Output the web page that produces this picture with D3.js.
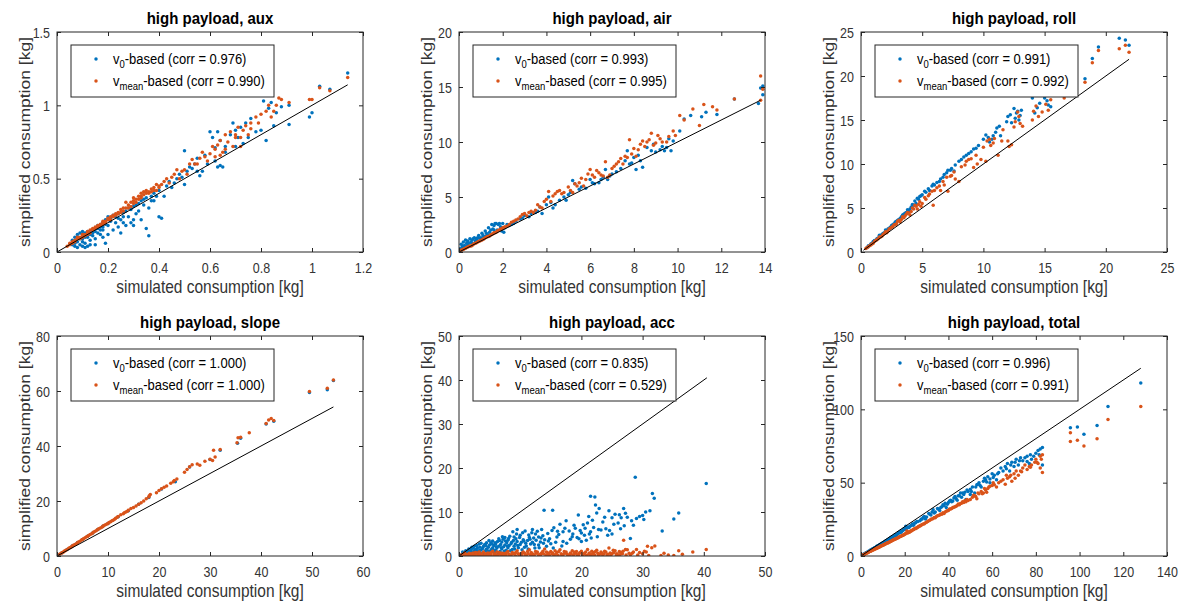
<!DOCTYPE html>
<html><head><meta charset="utf-8">
<script src="https://cdn.jsdelivr.net/npm/d3@7"></script>
<style>body{margin:0;background:#fff} text{font-family:Arial,"Liberation Sans",Helvetica,sans-serif}</style>
</head><body><svg id="c" width="1183" height="601"></svg>
<script>
const panelTitles = ["high payload, aux","high payload, air","high payload, roll","high payload, slope","high payload, acc","high payload, total"];
const corrV0 = ["0.976","0.993","0.991","1.000","0.835","0.996"];
const corrVmean = ["0.990","0.995","0.992","1.000","0.529","0.991"];
const xTicks = [[0,0.2,0.4,0.6,0.8,1,1.2],[0,2,4,6,8,10,12,14],[0,5,10,15,20,25],[0,10,20,30,40,50,60],[0,10,20,30,40,50],[0,20,40,60,80,100,120,140]];
const yTicks = [[0,0.5,1,1.5],[0,5,10,15,20],[0,5,10,15,20,25],[0,20,40,60,80],[0,10,20,30,40,50],[0,50,100,150]];
const lineEnds = [[0,1.14],[0,13.8],[0.2,21.9],[0,54.2],[0,40.5],[0,128]];

const auxV0 = [[0.06,0.05],[0.07,0.06],[0.07,0.1],[0.08,0.12],[0.08,0.07],[0.09,0.13],[0.09,0.05],[0.1,0.12],[0.1,0.09],[0.1,0.04],[0.11,0.13],[0.11,0.06],[0.12,0.1],[0.12,0.14],[0.12,0.04],[0.13,0.12],[0.13,0.08],[0.14,0.15],[0.14,0.11],[0.15,0.16],[0.15,0.05],[0.16,0.13],[0.16,0.18],[0.17,0.17],[0.17,0.12],[0.18,0.2],[0.18,0.15],[0.19,0.22],[0.19,0.06],[0.2,0.18],[0.2,0.24],[0.21,0.21],[0.22,0.25],[0.22,0.15],[0.23,0.2],[0.24,0.26],[0.25,0.22],[0.25,0.13],[0.26,0.27],[0.27,0.18],[0.28,0.3],[0.28,0.24],[0.29,0.2],[0.3,0.31],[0.3,0.18],[0.31,0.26],[0.32,0.33],[0.33,0.22],[0.34,0.36],[0.35,0.16],[0.36,0.3],[0.36,0.11],[0.37,0.38],[0.38,0.35],[0.4,0.42],[0.4,0.24],[0.41,0.23],[0.42,0.38],[0.44,0.48],[0.45,0.44],[0.47,0.5],[0.48,0.53],[0.5,0.46],[0.5,0.69],[0.52,0.58],[0.54,0.6],[0.55,0.64],[0.56,0.52],[0.57,0.55],[0.58,0.66],[0.6,0.82],[0.61,0.78],[0.62,0.62],[0.63,0.58],[0.64,0.59],[0.65,0.58],[0.63,0.82],[0.64,0.76],[0.66,0.72],[0.68,0.8],[0.69,0.88],[0.7,0.83],[0.71,0.78],[0.73,0.74],[0.74,0.88],[0.76,0.91],[0.78,0.82],[0.8,0.83],[0.81,1.03],[0.82,0.76],[0.83,0.98],[0.84,1.02],[0.85,0.86],[0.86,0.95],[0.88,0.99],[0.91,0.87],[0.91,1.0],[0.99,0.92],[1.0,0.95],[1.03,1.13],[1.07,1.11],[1.14,1.22],
[0.06,0.08],[0.07,0.04],[0.08,0.1],[0.09,0.09],[0.1,0.14],[0.11,0.1],[0.12,0.12],[0.13,0.14],[0.14,0.13],[0.15,0.14],[0.16,0.16],[0.17,0.15],[0.18,0.17],[0.19,0.19],[0.21,0.23],[0.23,0.24],[0.24,0.23],[0.26,0.24],[0.27,0.28],[0.29,0.29],[0.31,0.32],[0.33,0.35],[0.34,0.32],[0.35,0.37],[0.37,0.35],[0.38,0.4],[0.39,0.38],[0.43,0.45],[0.46,0.47],[0.49,0.51],[0.51,0.55],[0.53,0.57],[0.55,0.55],[0.59,0.6],[0.62,0.71],[0.66,0.68],[0.7,0.72],[0.72,0.85],[0.75,0.78],[0.15,0.09],[0.2,0.12],[0.18,0.1],[0.24,0.17],[0.3,0.22],[0.26,0.2],[0.32,0.28],[0.1,0.07],[0.13,0.05],[0.08,0.03],[0.11,0.03]];
const auxVmean = [[0.04,0.04],[0.05,0.06],[0.06,0.07],[0.07,0.08],[0.08,0.09],[0.08,0.1],[0.09,0.1],[0.1,0.11],[0.1,0.12],[0.11,0.12],[0.12,0.14],[0.12,0.13],[0.13,0.15],[0.14,0.15],[0.15,0.17],[0.15,0.16],[0.16,0.18],[0.17,0.19],[0.18,0.2],[0.18,0.21],[0.19,0.21],[0.2,0.23],[0.2,0.22],[0.21,0.24],[0.22,0.25],[0.23,0.26],[0.24,0.27],[0.25,0.29],[0.26,0.3],[0.27,0.3],[0.27,0.34],[0.28,0.32],[0.29,0.34],[0.3,0.35],[0.3,0.37],[0.31,0.36],[0.32,0.38],[0.33,0.4],[0.33,0.38],[0.34,0.41],[0.35,0.42],[0.36,0.41],[0.37,0.43],[0.38,0.44],[0.39,0.46],[0.4,0.45],[0.42,0.48],[0.43,0.5],[0.44,0.47],[0.46,0.53],[0.47,0.56],[0.48,0.5],[0.5,0.56],[0.51,0.53],[0.52,0.6],[0.53,0.63],[0.55,0.6],[0.56,0.64],[0.57,0.68],[0.58,0.65],[0.6,0.67],[0.61,0.72],[0.62,0.65],[0.63,0.73],[0.64,0.76],[0.65,0.68],[0.66,0.8],[0.67,0.75],[0.68,0.82],[0.69,0.72],[0.7,0.78],[0.71,0.85],[0.72,0.72],[0.73,0.83],[0.74,0.86],[0.75,0.8],[0.76,0.88],[0.78,0.92],[0.8,0.94],[0.82,0.96],[0.83,1.0],[0.84,0.92],[0.86,1.0],[0.87,1.05],[0.88,1.04],[0.91,1.02],[0.99,1.04],[1.0,1.04],[1.03,1.12],[1.07,1.1],[1.14,1.19],
[0.05,0.05],[0.06,0.06],[0.07,0.07],[0.09,0.09],[0.1,0.1],[0.11,0.11],[0.12,0.12],[0.13,0.13],[0.14,0.16],[0.16,0.17],[0.17,0.18],[0.18,0.19],[0.19,0.2],[0.21,0.22],[0.22,0.24],[0.23,0.25],[0.24,0.26],[0.25,0.27],[0.26,0.28],[0.28,0.3],[0.29,0.31],[0.3,0.33],[0.31,0.34],[0.32,0.36],[0.33,0.37],[0.34,0.39],[0.35,0.4],[0.36,0.4],[0.37,0.41],[0.38,0.42],[0.39,0.42],[0.4,0.44],[0.41,0.46],[0.45,0.51],[0.49,0.55],[0.54,0.6],[0.59,0.62],[0.62,0.7],[0.64,0.66],[0.66,0.7],[0.7,0.8],[0.72,0.78],[0.76,0.84],[0.79,0.88],[0.85,0.96]];

const airV0 = [[0.05,0.3],[0.1,0.7],[0.15,0.5],[0.2,0.9],[0.25,0.6],[0.3,1.1],[0.35,0.8],[0.4,1.0],[0.5,1.2],[0.55,0.9],[0.6,1.1],[0.7,1.3],[0.75,1.0],[0.8,1.2],[0.9,1.5],[1.0,1.3],[1.05,1.7],[1.1,1.2],[1.2,1.9],[1.3,1.6],[1.35,2.2],[1.4,1.8],[1.5,2.5],[1.55,2.1],[1.6,2.4],[1.7,2.6],[1.75,2.0],[1.8,2.5],[1.9,2.3],[2.0,2.6],[2.05,1.8],[2.1,2.2],[2.3,2.4],[2.5,2.6],[2.8,3.0],[3.0,3.3],[3.2,3.2],[3.5,3.6],[3.7,4.1],[3.8,3.5],[4.0,4.3],[4.1,5.0],[4.3,4.0],[4.6,4.7],[4.9,4.7],[5.0,5.2],[5.2,6.5],[5.3,6.2],[5.5,5.7],[5.8,5.8],[6.0,6.6],[6.2,6.2],[6.5,6.6],[6.7,7.5],[6.9,6.9],[7.2,7.3],[7.6,8.3],[7.7,9.2],[7.9,8.1],[8.1,7.5],[8.2,8.8],[8.4,7.7],[8.6,9.5],[8.9,9.8],[9.2,9.3],[9.5,9.5],[9.7,9.2],[9.6,10.3],[10.1,11.0],[10.3,12.1],[10.6,12.4],[11.1,12.3],[11.3,12.7],[11.8,12.5],[12.6,13.9],[13.7,13.5],[13.8,14.9],[13.9,14.3],[13.9,15.1],
[0.1,0.3],[0.2,0.4],[0.3,0.5],[0.4,0.6],[0.45,0.8],[0.6,0.8],[0.65,1.2],[0.8,1.0],[0.85,1.3],[0.95,1.2],[1.1,1.5],[1.2,1.4],[1.25,1.7],[1.45,2.0],[1.6,2.0],[1.65,2.6],[1.85,2.6],[1.95,1.9],[2.2,2.5],[2.4,2.5],[2.6,2.8],[2.9,3.1],[3.3,3.5],[3.6,3.7],[4.2,4.5],[4.4,4.3],[4.8,5.0],[5.1,5.4],[5.6,5.9],[6.1,6.3],[6.4,6.3],[6.6,6.8],[6.8,6.6],[7.0,7.1],[7.4,7.6],[7.8,8.0],[8.0,8.6],[8.3,8.3],[8.8,9.2],[9.0,9.1],[9.3,9.6],[9.4,9.2],[9.8,10.1]];
const airVmean = [[0.05,0.1],[0.1,0.15],[0.2,0.25],[0.3,0.35],[0.4,0.45],[0.5,0.55],[0.6,0.6],[0.7,0.75],[0.8,0.85],[0.9,0.95],[1.0,1.05],[1.1,1.15],[1.2,1.3],[1.3,1.4],[1.4,1.45],[1.5,1.6],[1.6,1.75],[1.7,1.8],[1.8,1.95],[1.9,2.1],[2.0,2.2],[2.1,2.3],[2.2,2.35],[2.4,2.7],[2.6,2.9],[2.8,3.2],[2.9,3.4],[3.0,3.5],[3.1,3.3],[3.3,3.7],[3.5,3.8],[3.6,4.3],[3.8,4.0],[3.9,4.6],[4.0,4.8],[4.1,5.5],[4.2,4.6],[4.4,5.3],[4.6,5.6],[4.8,5.4],[5.0,5.9],[5.2,5.4],[5.4,6.0],[5.6,6.7],[5.8,6.6],[6.0,7.5],[6.1,7.0],[6.3,7.4],[6.5,7.0],[6.7,8.2],[6.8,6.8],[7.0,7.6],[7.2,8.0],[7.4,8.5],[7.6,8.7],[7.8,10.2],[8.0,9.4],[8.2,9.3],[8.4,10.1],[8.6,10.0],[8.8,10.8],[9.0,9.9],[9.2,10.3],[9.5,10.0],[9.8,11.0],[10.1,12.4],[10.3,12.0],[10.7,13.0],[11.0,11.5],[11.2,13.4],[11.6,13.2],[11.8,12.9],[12.6,13.9],[13.8,13.8],[13.8,16.0],[13.9,14.8],
[0.15,0.2],[0.25,0.3],[0.35,0.4],[0.45,0.5],[0.55,0.55],[0.65,0.7],[0.75,0.8],[0.85,0.9],[0.95,1.0],[1.05,1.1],[1.15,1.2],[1.25,1.35],[1.35,1.4],[1.45,1.55],[1.55,1.65],[1.65,1.75],[1.75,1.9],[1.85,2.0],[1.95,2.1],[2.05,2.2],[2.3,2.5],[2.5,2.8],[2.7,3.0],[3.2,3.6],[3.4,3.6],[3.7,4.1],[4.3,5.1],[4.5,5.5],[4.7,5.3],[5.1,5.6],[5.3,6.2],[5.5,6.3],[5.7,6.0],[5.9,7.1],[6.2,6.8],[6.4,7.2],[6.6,6.9],[6.9,7.0],[7.1,7.8],[7.3,8.2],[7.5,8.0],[7.7,8.6],[7.9,8.9],[8.1,8.7],[8.3,9.8],[8.5,9.6],[8.7,10.2],[8.9,9.7],[9.1,10.6],[9.3,10.0],[9.6,10.5],[9.9,10.6]];

const rollV0 = [[0.5,0.5],[0.8,0.9],[1.0,1.2],[1.2,1.3],[1.4,1.6],[1.5,1.9],[1.7,2.0],[1.9,2.2],[2.0,2.5],[2.2,2.6],[2.4,2.8],[2.6,3.1],[2.8,3.4],[3.0,3.6],[3.2,3.8],[3.4,4.2],[3.6,4.4],[3.8,4.8],[4.0,4.9],[4.2,5.4],[4.4,5.8],[4.6,6.1],[4.8,6.3],[5.0,6.5],[5.3,6.8],[5.6,7.0],[5.9,7.7],[6.2,7.9],[6.5,8.3],[6.8,8.8],[7.1,9.3],[7.4,9.5],[7.7,9.9],[8.2,10.5],[8.6,11.0],[9.0,11.4],[9.4,11.8],[10.0,12.8],[10.2,13.3],[10.5,12.5],[10.8,13.2],[11.1,14.1],[11.4,13.2],[12.0,15.4],[12.3,14.7],[12.5,16.3],[12.7,15.8],[12.9,15.0],[13.1,16.1],[14.0,17.5],[14.2,15.8],[14.6,16.9],[15.0,17.5],[15.3,16.7],[16.0,18.6],[16.8,18.0],[18.3,19.7],[18.9,22.0],[19.4,23.3],[21.1,24.3],[21.6,24.1],[21.9,23.5],
[0.6,0.7],[0.9,1.0],[1.1,1.3],[1.3,1.5],[1.6,1.8],[1.8,2.1],[2.1,2.4],[2.3,2.7],[2.5,3.0],[2.7,3.2],[2.9,3.5],[3.1,3.7],[3.3,4.0],[3.5,4.3],[3.7,4.5],[3.9,4.7],[4.1,5.1],[4.3,5.3],[4.5,5.5],[4.7,6.0],[4.9,6.4],[5.2,6.9],[5.5,7.2],[5.8,7.5],[6.0,7.6],[6.4,8.0],[6.7,8.5],[7.0,9.0],[7.3,9.3],[7.6,9.2],[8.0,10.3],[8.4,10.8],[8.8,11.2],[9.2,11.7],[9.6,12.1],[10.4,13.0],[10.7,12.8],[11.0,13.6],[11.3,14.3],[11.9,14.8],[12.2,15.6],[12.6,15.2],[12.8,16.0],[13.0,15.5],[14.4,16.4],[15.2,17.2],[15.5,16.5]];
const rollVmean = [[0.4,0.4],[0.6,0.6],[0.8,0.8],[1.0,1.0],[1.2,1.3],[1.4,1.5],[1.5,1.7],[1.7,1.8],[1.9,2.1],[2.0,2.3],[2.2,2.4],[2.4,2.7],[2.6,2.9],[2.8,3.1],[3.0,3.5],[3.2,3.4],[3.4,4.0],[3.6,4.1],[3.8,4.5],[4.0,4.2],[4.2,5.0],[4.4,5.3],[4.6,4.9],[4.8,5.7],[5.0,5.5],[5.3,6.0],[5.6,6.6],[5.9,5.3],[6.2,7.3],[6.5,7.0],[6.8,7.6],[7.1,6.9],[7.4,8.7],[7.7,8.3],[8.0,8.0],[8.5,9.9],[8.8,10.5],[9.2,9.6],[9.5,10.0],[10.0,11.9],[10.3,12.6],[10.6,12.1],[10.9,12.9],[11.2,11.0],[11.5,12.6],[12.0,12.6],[12.3,12.2],[12.6,14.8],[12.9,15.4],[13.2,14.3],[14.0,15.0],[14.3,16.6],[14.8,15.9],[15.3,16.1],[15.5,17.3],[16.6,17.5],[18.3,19.3],[18.9,21.5],[19.4,22.9],[21.1,23.1],[21.6,23.5],[21.9,22.7],
[0.5,0.5],[0.7,0.7],[0.9,0.9],[1.1,1.2],[1.3,1.4],[1.6,1.7],[1.8,2.0],[2.1,2.2],[2.3,2.6],[2.5,2.8],[2.7,3.1],[2.9,3.2],[3.1,3.6],[3.3,3.7],[3.5,3.9],[3.7,4.3],[3.9,4.4],[4.1,4.6],[4.3,4.9],[4.5,5.2],[4.7,5.4],[4.9,5.2],[5.2,6.2],[5.5,6.4],[5.8,6.9],[6.0,7.0],[6.4,7.5],[6.7,8.0],[7.0,8.5],[7.3,8.6],[7.6,9.1],[8.2,9.7],[8.6,10.3],[9.0,10.6],[9.4,11.0],[9.8,10.5],[10.2,10.3],[10.5,12.8],[10.8,12.4],[11.6,13.9],[12.1,12.0],[12.5,14.2],[12.8,15.9],[13.0,14.6],[14.1,16.0],[14.5,15.4],[15.1,16.8]];

const slopeV0 = [[0.3,0.4],[1,1.2],[2,2.4],[3,3.6],[4,4.8],[5,6],[6,7.2],[7,8.4],[8,9.6],[9,10.8],[10,11.8],[12,14.3],[14,16.5],[16,18.8],[18,21.3],[20.5,24.4],[23.2,27],[26,32.4],[30,35.1],[32,38.5],[35.4,41],[36,42.8],[41,48],[42.5,49],[49.5,59.5],[53,60.5],[54.2,63.8]];
const slopeVmean = [[0.3,0.4],[0.6,0.7],[1,1.2],[1.4,1.7],[1.8,2.2],[2.2,2.6],[2.6,3.1],[3,3.6],[3.5,4.2],[4,4.8],[4.5,5.4],[5,6],[5.5,6.6],[6,7.2],[6.5,7.8],[7,8.4],[7.5,9],[8,9.6],[8.5,10.2],[9,10.8],[9.5,11.4],[10,11.8],[10.5,12.5],[11,13],[11.5,13.7],[12,14.4],[12.5,15],[13,15.4],[13.5,16],[14,16.6],[14.5,17.3],[15,17.6],[16,18.8],[17,20],[17.5,20.8],[18,21.5],[18.3,22.4],[19.5,23],[20.5,24.5],[21.5,25.5],[22.3,26.5],[23,27.5],[23.5,28],[25,30.5],[25.5,31.5],[26,32.5],[26.5,33.2],[27.5,33.5],[28,33],[29,34.5],[30,35.2],[30.5,34.7],[30.7,38.5],[31,36],[32,38.7],[35.3,41.2],[35.5,43],[36,43.2],[37.7,44.8],[41,48.2],[41.5,49.5],[42,50],[42.5,49.3],[49.5,59.8],[53,61],[54.2,64],
[0.8,1.0],[1.2,1.4],[1.6,1.9],[2.4,2.9],[2.8,3.3],[3.2,3.9],[3.8,4.5],[4.2,5.1],[4.8,5.8],[5.2,6.3],[5.8,7.0],[6.2,7.5],[6.8,8.1],[7.2,8.7],[7.8,9.4],[8.2,9.9],[8.8,10.5],[9.2,11.1],[9.8,11.6],[10.2,12.2],[10.8,12.8],[11.3,13.4],[11.8,14.1],[13.2,15.7],[13.8,16.3],[15.5,18.2],[16.5,19.4],[18.1,21.9],[20,23.8],[21,25],[22.8,27]];

const accV0 = [[0.5,0.3],[1,0.6],[1.2,0.2],[1.5,1],[2,0.5],[2,1.5],[2.5,1],[2.5,2.2],[3,0.8],[3,1.8],[3.3,2.7],[3.5,1.3],[4,2.2],[4,0.7],[4.5,3],[4.5,1.6],[5,2.5],[5,1.1],[5.5,3.4],[5.5,1.9],[6,2.8],[6,1.3],[6.5,3.9],[6.5,2.2],[7,3.2],[7,1.6],[7.5,4.2],[7.5,2.5],[8,3.6],[8,1.9],[8.5,2.8],[8.8,5.5],[9,4.3],[9,2.2],[9.5,3.3],[9.5,6],[10,4.7],[10,2.6],[10.5,3.7],[10.8,5.7],[11,2.3],[11.5,4.2],[12,3.1],[12,6],[12.5,5],[13,2.5],[13,4.3],[13.5,6],[13.9,10.4],[14,3.7],[14.5,5.1],[15,2.8],[15.3,10.4],[15.5,6.4],[16,4.3],[16.5,7.2],[17,3.3],[17,5.5],[17.5,8],[18,5.7],[18.5,4.4],[19,6.3],[19.5,9.3],[20,5.2],[20,3.3],[20.5,4.7],[21,7.5],[21.5,13.6],[21.2,9],[21.5,5.5],[22,6.5],[22.2,13.4],[22.3,11.6],[22.6,4.4],[22.9,10.8],[23.5,7.7],[24,6.2],[24.5,10.3],[25,8.7],[25,5],[25.5,9.5],[26,7.5],[26.5,8.7],[26.9,10.8],[27,6.9],[27.5,8.8],[28,4],[28.5,7],[28.8,17.9],[29,8.5],[30,9.2],[30.5,10],[31.6,14.2],[31.9,13.1],[33.2,5.7],[35.1,8.4],[35.9,9.8],[40.4,16.5],
[0.7,0.5],[0.9,0.2],[1.3,0.8],[1.7,0.4],[1.8,1.3],[2.2,0.9],[2.3,1.8],[2.7,0.4],[2.8,1.5],[3.2,1.1],[3.4,2.0],[3.7,0.6],[3.8,1.6],[4.2,2.6],[4.3,1.2],[4.7,0.9],[4.8,2.0],[5.2,3.0],[5.3,1.5],[5.7,2.4],[5.8,0.8],[6.2,1.8],[6.3,3.3],[6.7,1.0],[6.8,2.6],[7.2,3.8],[7.3,2.1],[7.7,1.3],[7.8,3.0],[8.2,2.4],[8.3,4.5],[8.7,1.5],[8.9,3.5],[9.2,2.7],[9.4,5.0],[9.7,1.9],[10.2,3.1],[10.4,5.3],[10.7,2.0],[11.2,3.5],[11.4,4.8],[11.7,2.7],[12.2,4.1],[12.4,1.8],[12.8,5.6],[13.3,3.2],[13.7,4.6],[14.3,2.2],[14.8,3.9],[15.2,5.8],[15.8,3.1],[16.3,4.9],[16.8,2.3],[17.3,6.3],[18.2,3.8],[18.8,7.0],[19.3,4.2],[19.8,5.8],[20.3,7.1],[20.8,3.6],[21.3,5.0],[21.8,8.1],[22.5,9.8],[23.2,5.9],[23.8,8.8],[24.3,4.7],[25.3,7.2],[26.2,9.4],[27.2,9.7],[28.2,8.0],[29.5,9.0],[30.2,8.3],[31.2,10.3],
[0.6,0.9],[1.1,1.2],[1.4,0.5],[1.6,1.6],[1.9,0.8],[2.1,2.0],[2.4,0.3],[2.6,1.4],[2.9,2.4],[3.1,0.5],[3.3,1.2],[3.6,2.9],[3.9,1.9],[4.1,0.4],[4.4,2.4],[4.6,1.3],[4.9,3.5],[5.1,0.6],[5.4,2.7],[5.6,1.4],[5.9,3.0],[6.1,2.1],[6.4,0.7],[6.6,3.5],[6.9,1.9],[7.1,4.4],[7.4,1.1],[7.6,3.4],[7.9,2.3],[8.1,4.0],[8.4,1.2],[8.6,3.1],[9.1,1.6],[9.3,3.9],[9.6,2.4],[9.9,4.2],[10.3,1.4],[10.6,3.4],[10.9,2.9],[11.3,1.6],[11.6,3.8],[11.9,5.3],[12.3,2.6],[12.6,3.6],[13.1,1.9],[13.4,4.1],[13.8,2.9],[14.6,3.4],[15.4,1.8],[16.1,5.6],[17.6,2.9],[18.6,5.0],[19.6,3.9],[20.6,6.3],[21.6,4.1],[22.8,6.0],[24.6,5.8],[26.4,6.2]];
const accVmean = [[0.5,0.1],[1,0.3],[1.5,0.2],[2,0.5],[2.5,0.1],[3,0.7],[3.5,0.3],[4,0.9],[4.5,0.2],[5,0.6],[5.5,1.1],[6,0.3],[6.5,0.8],[7,0.1],[7.5,0.5],[8,1],[8.5,0.2],[9,0.6],[9.5,1.2],[10,0.4],[10.5,0.9],[11,0.2],[11.5,1.4],[12,0.5],[12.5,1],[13,0.1],[13.5,0.7],[14,1.6],[14.5,0.4],[15,1],[15.5,0.2],[16,0.8],[16.5,1.4],[17,0.3],[17.5,0.9],[18,0.1],[18.5,1.2],[19,0.6],[19.5,0.2],[20,1.1],[20.5,0.5],[21,1.5],[21.5,0.2],[22,0.8],[22.5,1.3],[23,0.4],[23.5,0.1],[24,0.9],[24.5,1.8],[25,0.5],[25.5,1.2],[26,0.2],[26.5,0.8],[26.9,3.6],[27.5,1.4],[28,0.3],[28.5,0.9],[29,1.5],[30,0.5],[30.8,2.2],[31,0.1],[32,2.3],[33,0.1],[35.1,0.1],[35.9,1.2],[40.4,1.5],
[0.8,0.5],[1.2,0.1],[1.7,0.6],[2.2,0.3],[2.7,0.8],[3.2,0.2],[3.7,0.5],[4.2,0.1],[4.7,0.7],[5.2,0.3],[5.7,0.2],[6.2,0.9],[6.7,0.4],[7.2,0.6],[7.7,0.2],[8.2,0.4],[8.7,0.8],[9.2,0.1],[9.7,0.5],[10.2,0.2],[10.7,0.6],[11.2,1.0],[11.7,0.3],[12.2,0.1],[12.7,0.6],[13.2,0.4],[13.7,1.1],[14.2,0.2],[14.7,0.7],[15.2,0.5],[15.7,1.2],[16.2,0.1],[16.7,0.5],[17.2,1.0],[17.7,0.4],[18.2,0.7],[18.7,0.3],[19.2,1.0],[19.7,0.6],[20.2,0.2],[20.7,0.9],[21.2,0.4],[21.7,1.1],[22.2,0.2],[22.7,0.6],[23.2,0.9],[23.7,0.5],[24.2,0.2],[24.7,0.7],[25.2,1.3],[25.7,0.3],[26.2,1.0],[26.7,0.5],[27.2,1.5],[27.8,0.6],[29.5,0.8],[30.3,1.1],[31.5,1.9],[33.5,0.6],[34.2,0.2],[36.5,0.4],[38.2,0.9],
[0.4,0.3],[0.9,0.7],[1.3,0.4],[1.8,0.1],[2.3,0.7],[2.8,0.4],[3.3,0.9],[3.8,0.1],[4.3,0.5],[4.8,0.3],[5.3,0.8],[5.8,0.5],[6.3,0.1],[6.8,0.7],[7.3,0.3],[7.8,0.8],[8.3,0.1],[8.8,0.5],[9.3,0.8],[9.8,0.3],[10.3,0.7],[10.8,0.1],[11.3,0.5],[11.8,0.8],[12.3,0.3],[12.8,0.9],[13.3,0.2],[13.8,0.5],[14.3,0.9],[14.8,0.1],[15.3,0.7],[15.8,0.4],[16.3,1.0],[16.8,0.2],[17.3,0.6],[17.8,0.1],[18.3,0.4],[18.8,0.9],[19.3,0.3],[19.8,0.8],[20.3,0.5],[20.8,0.1],[21.3,0.7],[21.8,0.4],[22.3,1.0],[22.8,0.2],[23.3,0.6],[23.8,1.1],[24.3,0.4],[24.8,0.1],[25.3,0.8],[25.8,0.5],[26.3,0.3],[26.8,1.1],[27.3,0.2],[28.3,0.6],[29.2,0.2],[30.6,0.9]];

const totalV0 = [[1,1],[2,1.8],[3,2.6],[4,3.5],[5,4.3],[6,5.3],[7,6.2],[8,7],[9,8],[10,8.8],[11,9.8],[12,10.5],[13,11.6],[14,12.3],[15,13.5],[16,14],[17,15.3],[18,16],[19,17.2],[20,18],[20.5,20.3],[22,19.5],[23,20.8],[24,21],[25,22.6],[27,24],[28,25.3],[30,26.6],[31,29],[32,28],[33,31.5],[34,30],[35,32.4],[36,31],[37,33.5],[38,34.5],[39,33],[40,36.5],[41,38],[42,37.5],[43,40.5],[44,38],[45,41],[46,40],[47,42],[48,38.5],[49,44],[50,45.5],[51,47],[52,43],[53,48.5],[54,50],[55,47],[56,51],[57,52],[58,54],[59,50],[60,56],[61,55],[62,52],[63,57],[65,58],[66,61],[67,63],[68,58],[69,64],[70,61],[71,66],[72,62],[74,65],[75,67],[76,68],[77,63],[78,66],[80,70],[81,72],[82,73],[83,74],[83,62],[95.8,87.5],[99,88],[102,83],[108,89],[113,102],[128,118],
[0.5,0.5],[1.5,1.4],[2.5,2.3],[3.5,3.1],[4.5,4.1],[5.5,5.0],[6.5,5.8],[7.5,6.9],[8.5,7.6],[9.5,8.6],[10.5,9.3],[11.5,10.4],[12.5,11.2],[13.5,12.4],[14.5,12.9],[15.5,14.2],[16.5,14.6],[17.5,16.2],[18.5,16.4],[19.5,18.3],[21,19],[22.5,20.5],[24.5,22.4],[26,23.5],[28.5,26.5],[29.5,25.2],[31.5,28.4],[33.5,29.4],[35.5,31.8],[37.5,35],[39.5,35.2],[41.5,37],[43.5,39.2],[45.5,43],[47.5,43.5],[50.5,44],[52.5,47],[54.5,48],[57.5,50.5],[60.5,53.5],[64,60],[68.5,62],[72.5,65],[76,64.5],[79,68],[81.5,69],
[1.2,1.2],[2.2,2.1],[3.2,3.0],[4.2,3.9],[5.2,4.8],[6.2,5.7],[7.2,6.6],[8.2,7.4],[9.2,8.4],[10.2,9.2],[11.2,10.1],[12.2,11.1],[13.2,11.9],[14.2,12.9],[15.2,13.8],[16.2,14.8],[17.2,15.6],[18.2,16.7],[19.2,17.6],[20.2,18.5],[21.5,19.8],[23.5,21.8],[25.5,23.5],[27.5,25],[29,27],[32.5,30],[36.5,33],[38.5,36],[40.5,37.5],[42.5,39.5],[44.5,41],[46.5,43],[48.5,45],[50,42],[53.5,49],[56.5,53],[59,52.5],[62.5,56],[66.5,59.5],[70.5,64],[73,67],[77.5,69]];
const totalVmean = [[1,0.8],[2,1.5],[3,2.2],[4,3],[5,3.7],[6,4.4],[7,5.1],[8,5.8],[9,6.6],[10,7.3],[11,8],[12,8.8],[13,9.6],[14,10.3],[15,11],[16,11.8],[17,12.5],[18,13.3],[19,14],[20,14.8],[21,17],[22,16.5],[23,17],[24,18.2],[25,19],[26,19.6],[27,20.5],[28,21.5],[29,22],[30,23],[31,24],[32,25],[33,25.5],[34,26],[35,27.5],[36,28],[37,28.5],[38,29],[39,30.5],[40,31],[41,32],[42,33],[43,33.5],[44,34.5],[45,35],[46,36],[47,36.5],[48,37],[50,38.5],[51,40],[52,41],[53,39],[54,42.5],[55,44],[56,43],[57,45],[58,46],[59,47.5],[60,48],[62,47],[63,50],[65,52],[66,49],[67,53],[68,54],[69,51],[70,56],[71,58],[72,55],[74,60],[75,62],[76,59],[78,62],[80,66],[81,63],[82,68],[83,69],[83,57],[95.8,84],[95.8,78],[99,79],[102,75],[108,80],[113,93],[128,102],
[0.5,0.4],[1.5,1.1],[2.5,1.9],[3.5,2.6],[4.5,3.3],[5.5,4.1],[6.5,4.8],[7.5,5.5],[8.5,6.2],[9.5,7.0],[10.5,7.6],[11.5,8.5],[12.5,9.1],[13.5,9.9],[14.5,10.7],[15.5,11.4],[16.5,12.1],[17.5,12.9],[18.5,13.6],[19.5,14.4],[20.5,15.3],[21.5,15.8],[22.5,16.8],[23.5,17.5],[24.5,18.5],[25.5,19.2],[26.5,20.2],[27.5,21],[28.5,21.8],[29.5,22.6],[31.5,24.3],[33.5,26.2],[35.5,27.6],[37.5,29.5],[39.5,30.8],[41.5,32.4],[43.5,34],[45.5,35.8],[47.5,37.6],[49,37.8],[52.5,40.5],[55.5,42.5],[57.5,43.5],[61,48.5],[64,51],[68.5,55],[73,58],[77,61],[79.5,64],[82,60],
[1.2,0.9],[2.2,1.7],[3.2,2.4],[4.2,3.2],[5.2,3.9],[6.2,4.7],[7.2,5.3],[8.2,6.0],[9.2,6.8],[10.2,7.5],[11.2,8.3],[12.2,9.0],[13.2,9.8],[14.2,10.5],[15.2,11.3],[16.2,12.0],[17.2,12.8],[18.2,13.5],[19.2,14.2],[20.2,15.0],[21.2,15.6],[22.2,16.2],[23.2,17.4],[24.2,18],[25.2,18.8],[26.2,19.9],[27.2,20.8],[30.5,23.6],[32.5,25.3],[34.5,27],[36.5,28.6],[38.5,30],[40.5,32],[42.5,33.2],[44.5,35.5],[46.5,37],[48.5,38.5],[51.5,41.5],[53.5,43],[56.5,46],[58.5,47],[60.5,50],[66.5,55],[70.5,53],[73.5,57.5],[77.5,60.5],[80.5,64],[82.5,66]];

const seriesV0 = [auxV0, airV0, rollV0, slopeV0, accV0, totalV0];
const seriesVmean = [auxVmean, airVmean, rollVmean, slopeVmean, accVmean, totalVmean];

const blue = "#0072BD", orange = "#D95319", axisCol = "#262626", textCol = "#333";
const SY = 1.13; // vertical stretch of the reference's lettering
const R = 1.75;
const svg = d3.select("#c");
const lefts = [57, 459, 861], tops = [32, 336], pw = 306, ph = 220;

function stretchedText(parent, x, y, extra) {
  return parent.append("g").attr("transform", `translate(${x},${y}) ${extra || `scale(1,${SY})`}`).append("text");
}

panelTitles.forEach((title, i) => {
  const L = lefts[i % 3], T = tops[Math.floor(i / 3)];
  const xt = xTicks[i], yt = yTicks[i];
  const x = d3.scaleLinear().domain([xt[0], xt[xt.length - 1]]).range([0, pw]);
  const y = d3.scaleLinear().domain([yt[0], yt[yt.length - 1]]).range([ph, 0]);
  const g = svg.append("g").attr("transform", `translate(${L},${T})`);

  const clipId = "clip" + i;
  g.append("clipPath").attr("id", clipId).append("rect").attr("width", pw).attr("height", ph);
  const plot = g.append("g").attr("clip-path", `url(#${clipId})`);

  plot.selectAll("circle.b").data(seriesV0[i]).join("circle").attr("class", "b")
    .attr("cx", d => x(d[0])).attr("cy", d => y(d[1])).attr("r", R).attr("fill", blue);
  plot.selectAll("circle.o").data(seriesVmean[i]).join("circle").attr("class", "o")
    .attr("cx", d => x(d[0])).attr("cy", d => y(d[1])).attr("r", R).attr("fill", orange);
  const le = lineEnds[i];
  plot.append("line").attr("x1", x(le[0])).attr("y1", y(le[0])).attr("x2", x(le[1])).attr("y2", y(le[1]))
    .attr("stroke", "#000").attr("stroke-width", 1);

  const styleAxis = (a, showText) => {
    a.select(".domain").remove();
    a.attr("font-family", null).attr("font-size", null);
    a.selectAll(".tick line").attr("stroke", axisCol);
    if (!showText) a.selectAll(".tick text").remove();
    else a.selectAll(".tick text").attr("fill", textCol).attr("font-size", 12.5);
  };
  const bx = g.append("g").attr("transform", `translate(0,${ph})`)
    .call(d3.axisBottom(x).tickValues(xt).tickSize(-4).tickFormat(d => String(d)))
    .call(a => styleAxis(a, true));
  bx.selectAll(".tick text").attr("y", 0).attr("dy", null).attr("transform", `translate(0,20.5) scale(1,${SY})`);
  g.append("g").call(d3.axisTop(x).tickValues(xt).tickSize(-4)).call(a => styleAxis(a, false));
  const ly = g.append("g").call(d3.axisLeft(y).tickValues(yt).tickSize(-4).tickFormat(d => String(d)))
    .call(a => styleAxis(a, true));
  ly.selectAll(".tick text").attr("x", 0).attr("dy", null).attr("transform", `translate(-7,5) scale(1,${SY})`);
  g.append("g").attr("transform", `translate(${pw},0)`)
    .call(d3.axisRight(y).tickValues(yt).tickSize(-4)).call(a => styleAxis(a, false));
  g.append("rect").attr("width", pw).attr("height", ph).attr("fill", "none").attr("stroke", axisCol).attr("stroke-width", 1);

  stretchedText(g, pw / 2, -8).attr("text-anchor", "middle")
    .attr("font-weight", "bold").attr("font-size", 15).attr("fill", "#000").text(title);
  stretchedText(g, pw / 2, ph + 41).attr("text-anchor", "middle")
    .attr("font-size", 15.5).attr("fill", textCol).text("simulated consumption [kg]");
  stretchedText(g, -32, ph / 2, `rotate(-90) scale(${SY},1)`).attr("dy", "0.35em")
    .attr("text-anchor", "middle").attr("font-size", 15.5).attr("fill", textCol).text("simplified consumption [kg]");

  const lg = g.append("g").attr("transform", "translate(14,13)");
  lg.append("rect").attr("width", 203).attr("height", 52).attr("fill", "#fff").attr("stroke", axisCol).attr("stroke-width", 1);
  const entries = [["0", corrV0[i], blue], ["mean", corrVmean[i], orange]];
  entries.forEach((e, k) => {
    const cy = 14 + k * 22;
    lg.append("circle").attr("cx", 25).attr("cy", cy).attr("r", R).attr("fill", e[2]);
    const t = stretchedText(lg, 42, cy + 4.5).attr("font-size", 13).attr("fill", "#000");
    t.append("tspan").text("v");
    t.append("tspan").attr("font-size", 9.5).attr("dy", 4).text(e[0]);
    t.append("tspan").attr("dy", -4).text(`-based (corr = ${e[1]})`);
  });
});
</script></body></html>
